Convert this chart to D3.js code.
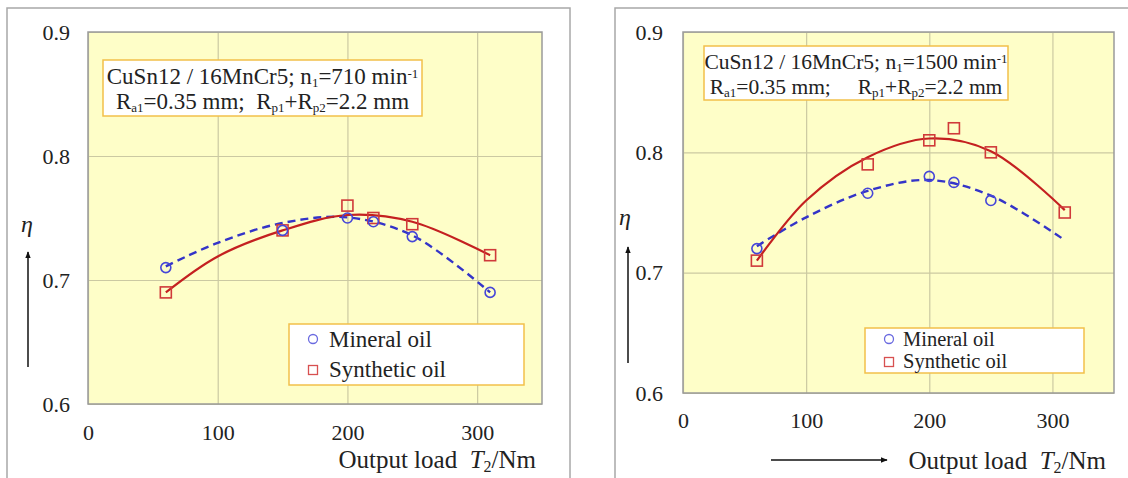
<!DOCTYPE html>
<html>
<head>
<meta charset="utf-8">
<script src="https://cdn.jsdelivr.net/npm/d3@7"></script>
<style>
  body { margin: 0; background: #fff; }
</style>
</head>
<body>
<div id="chart"></div>
<script>
// measured points (output load in Nm, efficiency)
const loads = [60, 150, 200, 220, 250, 310];
const mineral710 = [0.71, 0.74, 0.75, 0.747, 0.735, 0.69];
const synthetic710 = [0.69, 0.74, 0.76, 0.75, 0.745, 0.72];

const mineralLoads1500 = [60, 150, 200, 220, 250];
const mineral1500 = [0.72, 0.766, 0.78, 0.775, 0.76];
const synthetic1500 = [0.71, 0.79, 0.81, 0.82, 0.80, 0.75];

// trend lines
const fitLoads = [60, 100, 150, 200, 250, 310];
const mineralFit710 = [0.711, 0.730, 0.746, 0.7505, 0.736, 0.690];
const syntheticFit710 = [0.690, 0.719, 0.740, 0.7524, 0.747, 0.720];
const mineralFit1500 = [0.722, 0.746, 0.768, 0.777, 0.764, 0.727];
const syntheticFit1500 = [0.710, 0.760, 0.796, 0.8115, 0.801, 0.752];

const xTicks = [0, 100, 200, 300];
const yTicks = [0.6, 0.7, 0.8, 0.9];
const legendLabels = ["Mineral oil", "Synthetic oil"];

const FONT = "Liberation Serif";
const W = 1128, H = 478;
const svg = d3.select("#chart").append("svg")
    .attr("width", W)
    .attr("height", H)
    .attr("font-family", FONT);

const defs = svg.append("defs");
defs.append("marker")
    .attr("id", "arrow")
    .attr("viewBox", "0 0 10 10")
    .attr("refX", 9).attr("refY", 5)
    .attr("markerWidth", 7).attr("markerHeight", 7)
    .attr("markerUnits", "userSpaceOnUse")
    .attr("orient", "auto")
  .append("path")
    .attr("d", "M0,1 L10,5 L0,9 Z")
    .attr("fill", "#111");

function txt(sel) {
    return sel.append("text").attr("font-family", FONT).attr("fill", "#222");
}

function drawPanel(p) {
    // outer frame
    svg.append("rect")
        .attr("x", p.frame[0]).attr("y", p.frame[1])
        .attr("width", p.frame[2]).attr("height", p.frame[3])
        .attr("fill", "none")
        .attr("stroke", "#a8a8a8")
        .attr("stroke-width", 1.5);

    const x = d3.scaleLinear().domain([0, 350]).range([p.left, p.right]);
    const y = d3.scaleLinear().domain([0.6, 0.9]).range([p.bottom, p.top]);
    const w = p.right - p.left, h = p.bottom - p.top;

    const g = svg.append("g");

    g.append("rect")
        .attr("x", p.left).attr("y", p.top)
        .attr("width", w).attr("height", h)
        .attr("fill", "#fefec8");

    // grid
    g.append("g")
        .attr("transform", `translate(0,${p.bottom})`)
        .call(d3.axisBottom(x).tickValues(xTicks).tickSize(-h).tickFormat(""))
        .call(s => s.select(".domain").remove())
        .selectAll("line").attr("stroke", "#cbc9a2").attr("stroke-width", 1.2);
    g.append("g")
        .attr("transform", `translate(${p.left},0)`)
        .call(d3.axisLeft(y).tickValues(yTicks).tickSize(-w).tickFormat(""))
        .call(s => s.select(".domain").remove())
        .selectAll("line").attr("stroke", "#cbc9a2").attr("stroke-width", 1.2);

    g.append("rect")
        .attr("x", p.left).attr("y", p.top)
        .attr("width", w).attr("height", h)
        .attr("fill", "none")
        .attr("stroke", "#9a9a9a")
        .attr("stroke-width", 1.5);

    // tick labels
    g.append("g")
        .attr("transform", `translate(0,${p.bottom})`)
        .call(d3.axisBottom(x).tickValues(xTicks).tickSize(0).tickPadding(p.xPad))
        .attr("font-family", FONT)
        .attr("font-size", 22)
        .call(s => s.select(".domain").remove())
        .selectAll("text")
        .attr("fill", "#222");
    g.append("g")
        .attr("transform", `translate(${p.left},0)`)
        .call(d3.axisLeft(y).tickValues(yTicks).tickSize(0).tickPadding(p.yPad).tickFormat(d3.format(".1f")))
        .attr("font-family", FONT)
        .attr("font-size", 22)
        .call(s => s.select(".domain").remove())
        .selectAll("text")
        .attr("fill", "#222");

    // trend lines
    const line = d3.line()
        .x(d => x(d[0]))
        .y(d => y(d[1]))
        .curve(d3.curveCatmullRom.alpha(0.5));

    g.append("path")
        .datum(d3.zip(fitLoads, p.mineralFit))
        .attr("d", line)
        .attr("fill", "none")
        .attr("stroke", "#3434c8")
        .attr("stroke-width", 2.4)
        .attr("stroke-dasharray", "8,5");
    g.append("path")
        .datum(d3.zip(fitLoads, p.syntheticFit))
        .attr("d", line)
        .attr("fill", "none")
        .attr("stroke", "#c42020")
        .attr("stroke-width", 2.2);

    // measured points
    g.selectAll(".sq")
        .data(d3.zip(loads, p.synthetic))
        .enter().append("rect")
        .attr("class", "sq")
        .attr("x", d => x(d[0]) - 5.5)
        .attr("y", d => y(d[1]) - 5.5)
        .attr("width", 11).attr("height", 11)
        .attr("fill", "none")
        .attr("stroke", "#d03a3a")
        .attr("stroke-width", 1.6);
    g.selectAll(".ci")
        .data(d3.zip(p.mineralLoads, p.mineral))
        .enter().append("circle")
        .attr("class", "ci")
        .attr("cx", d => x(d[0]))
        .attr("cy", d => y(d[1]))
        .attr("r", 5)
        .attr("fill", "none")
        .attr("stroke", "#4646d8")
        .attr("stroke-width", 1.6);

    // annotation box
    const nb = p.note;
    g.append("rect")
        .attr("x", nb.x).attr("y", nb.y)
        .attr("width", nb.w).attr("height", nb.h)
        .attr("fill", "#fff")
        .attr("stroke", "#f2c04a")
        .attr("stroke-width", 1.5);
    const t1 = txt(g)
        .attr("x", nb.x + nb.w / 2).attr("y", nb.y + nb.b1)
        .attr("text-anchor", "middle")
        .attr("font-size", nb.fs);
    t1.append("tspan").text("CuSn12 / 16MnCr5; n");
    t1.append("tspan").attr("baseline-shift", "-25%").attr("font-size", 13).text("1");
    t1.append("tspan").text(`=${p.speed} min`);
    t1.append("tspan").attr("baseline-shift", "45%").attr("font-size", 13).text("-1");

    const t2 = txt(g)
        .attr("x", nb.x + nb.w / 2).attr("y", nb.y + nb.b2)
        .attr("text-anchor", "middle")
        .attr("xml:space", "preserve")
        .attr("font-size", nb.fs);
    t2.append("tspan").text("R");
    t2.append("tspan").attr("baseline-shift", "-25%").attr("font-size", 13).text("a1");
    t2.append("tspan").text("=0.35 mm;" + p.gap + "R");
    t2.append("tspan").attr("baseline-shift", "-25%").attr("font-size", 13).text("p1");
    t2.append("tspan").text("+R");
    t2.append("tspan").attr("baseline-shift", "-25%").attr("font-size", 13).text("p2");
    t2.append("tspan").text("=2.2 mm");

    // legend
    const lg = p.legend;
    g.append("rect")
        .attr("x", lg.x).attr("y", lg.y)
        .attr("width", lg.w).attr("height", lg.h)
        .attr("fill", "#fff")
        .attr("stroke", "#f2c04a")
        .attr("stroke-width", 1.5);
    g.append("circle")
        .attr("cx", lg.mx).attr("cy", lg.y + lg.r1)
        .attr("r", 4.5)
        .attr("fill", "none")
        .attr("stroke", "#6a6ae0")
        .attr("stroke-width", 1.3);
    g.append("rect")
        .attr("x", lg.mx - 4.5).attr("y", lg.y + lg.r2 - 4.5)
        .attr("width", 9).attr("height", 9)
        .attr("fill", "none")
        .attr("stroke", "#d85050")
        .attr("stroke-width", 1.3);
    legendLabels.forEach((lab, i) => {
        txt(g)
            .attr("x", lg.tx)
            .attr("y", lg.y + (i === 0 ? lg.b1 : lg.b2))
            .attr("font-size", lg.fs)
            .text(lab);
    });

    // eta with arrow
    txt(g)
        .attr("x", p.eta[0]).attr("y", p.eta[1])
        .attr("text-anchor", "middle")
        .attr("font-size", 24)
        .attr("font-style", "italic")
        .text("η");
    g.append("line")
        .attr("x1", p.etaArrow[0]).attr("y1", p.etaArrow[1])
        .attr("x2", p.etaArrow[0]).attr("y2", p.etaArrow[2])
        .attr("stroke", "#111")
        .attr("stroke-width", 1.5)
        .attr("marker-end", "url(#arrow)");

    // x title
    const xt = txt(g)
        .attr("x", p.xTitle[0]).attr("y", p.xTitle[1])
        .attr("text-anchor", "end")
        .attr("xml:space", "preserve")
        .attr("font-size", 25);
    xt.append("tspan").text("Output load  ");
    xt.append("tspan").attr("font-style", "italic").text("T");
    xt.append("tspan").attr("baseline-shift", "-25%").attr("font-size", 16).text("2");
    xt.append("tspan").text("/Nm");

    if (p.xArrow) {
        g.append("line")
            .attr("x1", p.xArrow[0]).attr("y1", p.xArrow[2])
            .attr("x2", p.xArrow[1]).attr("y2", p.xArrow[2])
            .attr("stroke", "#111")
            .attr("stroke-width", 1.5)
            .attr("marker-end", "url(#arrow)");
    }
}

drawPanel({
    frame: [7, 8, 563, 480],
    left: 88, right: 542, top: 32, bottom: 404,
    xPad: 20, yPad: 18,
    speed: 710, gap: "  ",
    mineralLoads: loads, mineral: mineral710, synthetic: synthetic710,
    mineralFit: mineralFit710, syntheticFit: syntheticFit710,
    note: { x: 103, y: 60, w: 319, h: 56, b1: 24, b2: 49, fs: 23 },
    legend: { x: 289, y: 324, w: 235, h: 61, mx: 313, r1: 15, r2: 46, tx: 329, b1: 23, b2: 53, fs: 23 },
    eta: [27, 232],
    etaArrow: [28, 367, 252],
    xTitle: [536, 468]
});

drawPanel({
    frame: [615, 8, 530, 480],
    left: 683, right: 1114, top: 32, bottom: 393,
    xPad: 19.5, yPad: 20,
    speed: 1500, gap: "     ",
    mineralLoads: mineralLoads1500, mineral: mineral1500, synthetic: synthetic1500,
    mineralFit: mineralFit1500, syntheticFit: syntheticFit1500,
    note: { x: 704, y: 46, w: 304, h: 54, b1: 23, b2: 48, fs: 21.5 },
    legend: { x: 865, y: 328, w: 219, h: 45, mx: 889, r1: 11, r2: 34, tx: 903, b1: 18, b2: 40, fs: 20.5 },
    eta: [625, 225],
    etaArrow: [628, 363, 247],
    xTitle: [1106, 469],
    xArrow: [771, 887, 460]
});
</script>
</body>
</html>
